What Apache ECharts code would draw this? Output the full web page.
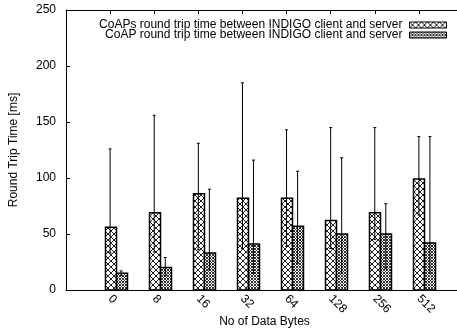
<!DOCTYPE html>
<html>
<head>
<meta charset="utf-8">
<script src="https://cdn.jsdelivr.net/npm/echarts@6/dist/echarts.min.js"></script>
<style>
  html, body { margin: 0; padding: 0; background: #fff; }
  #chart { width: 457px; height: 333px; }
</style>
</head>
<body>
<div id="chart"></div>
<script>
// Payload sizes (bytes) on the x axis
const categories = ['0', '8', '16', '32', '64', '128', '256', '512'];
// CoAPs (secured) round trip time: mean, lower and upper error bounds [ms]
const coapsMean = [56, 69, 86, 82, 82, 62, 69, 99];
const coapsLow  = [33, 34, 36, 37, 39, 37, 45, 67];
const coapsHigh = [126, 156, 131, 185, 143, 145, 145, 137];
// CoAP (plain) round trip time: mean, lower and upper error bounds [ms]
const coapMean = [15, 20, 33, 41, 57, 50, 50, 42];
const coapLow  = [13, 13, 18, 15, 24, 15, 19, 15];
const coapHigh = [17, 29, 90, 116, 106, 118, 77, 137];
// y-axis ticks
const yTicks = [0, 50, 100, 150, 200, 250];

const FONT = "'Liberation Sans', Arial, Helvetica, sans-serif";
const BAR_W = 0.25;   // bar width in x-axis units

// Fill textures for the two series
function crossHatch(size, color, lw) {
  const c = document.createElement('canvas');
  c.width = size; c.height = size;
  const g = c.getContext('2d');
  g.fillStyle = '#fff';
  g.fillRect(0, 0, size, size);
  g.strokeStyle = color;
  g.lineWidth = lw;
  g.beginPath();
  g.moveTo(-1, -1); g.lineTo(size + 1, size + 1);
  g.moveTo(size + 1, -1); g.lineTo(-1, size + 1);
  g.stroke();
  return c;
}
const coapsFill = { image: crossHatch(6, '#222', 1), repeat: 'repeat' };
const coapFill  = { image: crossHatch(3, '#333', 1), repeat: 'repeat' };

function rows(mean, low, high) {
  return mean.map((m, i) => [i, m, low[i], high[i]]);
}

function barWithError(offset, fill) {
  return function (params, api) {
    const x = api.value(0) + offset;
    const half = api.size([BAR_W, 0])[0] / 2;
    const base = api.coord([x, 0]);
    const top = api.coord([x, api.value(1)]);
    const lo = api.coord([x, api.value(2)]);
    const hi = api.coord([x, api.value(3)]);
    const cap = 1.5;
    const line = { stroke: '#000', lineWidth: 1 };
    return {
      type: 'group',
      children: [
        { type: 'rect',
          shape: { x: Math.round(top[0] - half) + 0.5, y: top[1], width: Math.round(half * 2), height: base[1] - top[1] },
          style: { fill: fill, stroke: '#000', lineWidth: 1.5 } },
        { type: 'line', shape: { x1: lo[0], y1: lo[1], x2: hi[0], y2: hi[1] }, style: line },
        { type: 'line', shape: { x1: lo[0] - cap, y1: lo[1], x2: lo[0] + cap, y2: lo[1] }, style: line },
        { type: 'line', shape: { x1: hi[0] - cap, y1: hi[1], x2: hi[0] + cap, y2: hi[1] }, style: line }
      ]
    };
  };
}

const chart = echarts.init(document.getElementById('chart'), null, { renderer: 'canvas' });

const axisText = { color: '#000', fontFamily: FONT, fontSize: 12 };
const frameLine = { show: true, onZero: false, lineStyle: { color: '#000', width: 1 } };

chart.setOption({
  animation: false,
  backgroundColor: '#fff',
  grid: { left: 66, top: 10, right: -6, bottom: 43, containLabel: false, outerBoundsMode: 'none' },
  legend: {
    orient: 'vertical',
    right: 5,
    top: 14,
    align: 'right',
    itemWidth: 37,
    itemHeight: 6,
    itemGap: -2,
    icon: 'rect',
    selectedMode: false,
    textStyle: { color: '#000', fontFamily: FONT, fontSize: 12, padding: [0, 2, 0, 0] },
    itemStyle: { borderColor: '#000', borderWidth: 1 },
    data: [
      'CoAPs round trip time between INDIGO client and server',
      'CoAP round trip time between INDIGO client and server'
    ]
  },
  xAxis: [
    {
      type: 'value',
      position: 'bottom',
      min: -1, max: 8, interval: 1,
      name: 'No of Data Bytes',
      nameLocation: 'middle',
      nameGap: 26,
      nameMoveOverlap: false,
      nameTextStyle: axisText,
      axisLine: frameLine,
      axisTick: { show: false },
      splitLine: { show: false },
      axisLabel: {
        ...axisText,
        rotate: -45,
        margin: 7,
        showMinLabel: true, showMaxLabel: true,
        formatter: v => (categories[v] !== undefined ? categories[v] : '')
      }
    },
    {
      type: 'value',
      position: 'top',
      min: -1, max: 8, interval: 1,
      axisLine: frameLine,
      axisTick: { show: true, inside: true, length: 4, lineStyle: { color: '#000' } },
      axisLabel: { show: false },
      splitLine: { show: false }
    }
  ],
  yAxis: {
    type: 'value',
    position: 'left',
    min: yTicks[0], max: yTicks[yTicks.length - 1], interval: yTicks[1] - yTicks[0],
    name: 'Round Trip Time [ms]',
    nameLocation: 'middle',
    nameGap: 46,
    nameMoveOverlap: false,
    nameTextStyle: axisText,
    axisLine: frameLine,
    axisTick: { show: true, inside: true, length: 4, lineStyle: { color: '#000' } },
    splitLine: { show: false },
    axisLabel: { ...axisText, margin: 10 }
  },
  series: [
    {
      name: 'CoAPs round trip time between INDIGO client and server',
      type: 'custom',
      xAxisIndex: 0,
      itemStyle: { color: coapsFill, borderColor: '#000', borderWidth: 1 },
      renderItem: barWithError(0, coapsFill),
      encode: { x: 0, y: [1, 2, 3] },
      data: rows(coapsMean, coapsLow, coapsHigh)
    },
    {
      name: 'CoAP round trip time between INDIGO client and server',
      type: 'custom',
      xAxisIndex: 0,
      itemStyle: { color: coapFill, borderColor: '#000', borderWidth: 1 },
      renderItem: barWithError(BAR_W, coapFill),
      encode: { x: 0, y: [1, 2, 3] },
      data: rows(coapMean, coapLow, coapHigh)
    }
  ]
});
</script>
</body>
</html>
